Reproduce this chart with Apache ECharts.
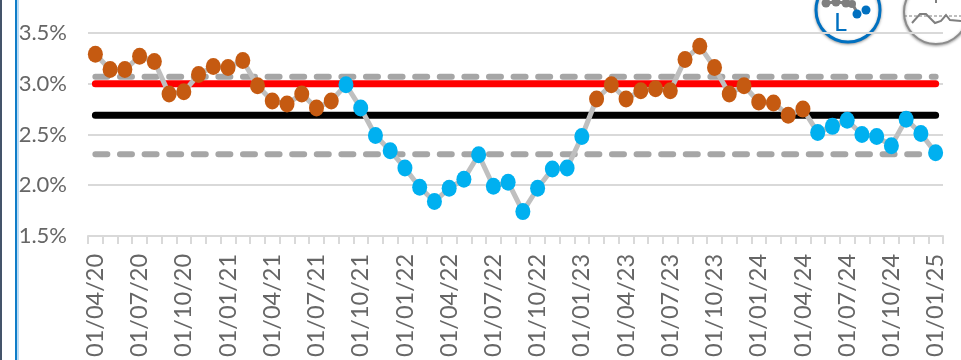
<!DOCTYPE html>
<html>
<head>
<meta charset="utf-8">
<style>html,body{margin:0;padding:0;background:#fff}#main{width:961px;height:360px}</style>
<script src="https://cdn.jsdelivr.net/npm/echarts@6/dist/echarts.min.js"></script>
</head>
<body>
<div id="main"></div>
<script>
const months = ['01/04/20','01/05/20','01/06/20','01/07/20','01/08/20','01/09/20','01/10/20','01/11/20','01/12/20',
  '01/01/21','01/02/21','01/03/21','01/04/21','01/05/21','01/06/21','01/07/21','01/08/21','01/09/21','01/10/21','01/11/21','01/12/21',
  '01/01/22','01/02/22','01/03/22','01/04/22','01/05/22','01/06/22','01/07/22','01/08/22','01/09/22','01/10/22','01/11/22','01/12/22',
  '01/01/23','01/02/23','01/03/23','01/04/23','01/05/23','01/06/23','01/07/23','01/08/23','01/09/23','01/10/23','01/11/23','01/12/23',
  '01/01/24','01/02/24','01/03/24','01/04/24','01/05/24','01/06/24','01/07/24','01/08/24','01/09/24','01/10/24','01/11/24','01/12/24',
  '01/01/25'];
const rate = [3.29,3.14,3.14,3.27,3.22,2.90,2.92,3.09,3.17,3.16,3.23,2.98,2.83,2.80,2.90,2.76,2.83,
  2.99,2.76,2.49,2.34,2.17,1.98,1.84,1.97,2.06,2.30,1.99,2.03,1.74,1.97,2.16,2.17,2.48,
  2.85,2.99,2.85,2.93,2.95,2.93,3.24,3.37,3.16,2.90,2.98,2.82,2.81,2.69,2.75,
  2.52,2.58,2.64,2.50,2.48,2.39,2.65,2.51,2.32];
// 1 = orange run, 0 = blue run
const signal = [1,1,1,1,1,1,1,1,1,1,1,1,1,1,1,1,1,
  0,0,0,0,0,0,0,0,0,0,0,0,0,0,0,0,0,
  1,1,1,1,1,1,1,1,1,1,1,1,1,1,1,
  0,0,0,0,0,0,0,0,0];
const target = months.map(() => 3.0);
const mean = months.map(() => 2.69);
const upperLimit = months.map(() => 3.07);
const lowerLimit = months.map(() => 2.305);
const yTicks = [1.5, 2.0, 2.5, 3.0, 3.5];

const FONT = 'Lato';
const GREY = '#a6a6a6';
const ICON_GREY = '#7f7f7f';
const ICON_BLUE = '#0070c0';

function refLine(name, values, color, dashed) {
  return {
    name, type: 'line', data: values, symbol: 'none', silent: true,
    lineStyle: {
      color, width: dashed ? 6 : 7, cap: 'round',
      type: dashed ? [12, 12.6] : 'solid'
    }
  };
}

function dot(cx, cy, r, fill) {
  return { type: 'circle', shape: { cx, cy, r }, style: { fill } };
}

const chart = echarts.init(document.getElementById('main'), null, { renderer: 'canvas' });
chart.setOption({
  animation: false,
  backgroundColor: '#fff',
  grid: { left: 88, right: 18, top: 33, bottom: 123 },
  xAxis: {
    type: 'category',
    data: months,
    boundaryGap: true,
    axisLine: { lineStyle: { color: '#d9d9d9', width: 2 } },
    axisTick: { show: true, interval: 0, length: 8, lineStyle: { color: '#d9d9d9', width: 2 } },
    axisLabel: { interval: 2, rotate: 90, margin: 18, color: '#666666', fontSize: 23.5, fontFamily: FONT }
  },
  yAxis: {
    type: 'value',
    min: yTicks[0],
    max: yTicks[yTicks.length - 1],
    interval: 0.5,
    axisLine: { show: false },
    axisTick: { show: false },
    splitLine: { lineStyle: { color: '#d9d9d9', width: 2 } },
    axisLabel: { margin: 21, color: '#666666', fontSize: 22, fontFamily: FONT, formatter: v => v.toFixed(1) + '%' }
  },
  series: [
    refLine('Upper limit', upperLimit, GREY, true),
    refLine('Lower limit', lowerLimit, GREY, true),
    refLine('Target', target, '#ff0000', false),
    refLine('Mean', mean, '#000000', false),
    {
      name: 'Rate', type: 'line', symbol: 'circle', symbolSize: [15, 17], showAllSymbol: true,
      lineStyle: { color: '#bfbfbf', width: 5 },
      data: rate.map((v, i) => ({
        value: v,
        itemStyle: { color: signal[i] ? '#c55a11' : '#00b0f0' }
      }))
    }
  ],
  graphic: [
    { type: 'rect', shape: { x: 0, y: 0, width: 2, height: 360 }, style: { fill: '#44546a' } },
    { type: 'rect', shape: { x: 15, y: 0, width: 2, height: 360 }, style: { fill: '#0f7dc8' } },
    { type: 'rect', shape: { x: 17, y: 0, width: 2, height: 360 }, style: { fill: '#bcdcf4' } },
    { type: 'circle', shape: { cx: 848, cy: 10, r: 32 }, style: { fill: '#fff', stroke: ICON_BLUE, lineWidth: 3, shadowBlur: 3, shadowColor: 'rgba(0,0,0,.35)', shadowOffsetY: 1 } },
    { type: 'polyline', shape: { points: [[826, 3], [836, 2], [846, 3], [853, 5], [858, 14]] }, style: { fill: 'none', stroke: ICON_GREY, lineWidth: 3 } },
    dot(826, 3, 4.5, ICON_GREY),
    dot(836, 2, 4.5, ICON_GREY),
    dot(846, 3, 4.5, ICON_GREY),
    dot(852, 4, 4, ICON_GREY),
    dot(857, 14, 4.5, ICON_BLUE),
    dot(866, 10, 4.5, ICON_BLUE),
    { type: 'text', x: 834, y: 10, style: { text: 'L', fill: ICON_BLUE, fontSize: 25, fontFamily: FONT } },
    { type: 'circle', shape: { cx: 936, cy: 12, r: 32 }, style: { fill: '#fff', stroke: '#8c8c8c', lineWidth: 2, shadowBlur: 3, shadowColor: 'rgba(0,0,0,.35)', shadowOffsetY: 1 } },
    { type: 'line', shape: { x1: 904, y1: 16, x2: 961, y2: 16 }, style: { stroke: ICON_GREY, lineWidth: 1, lineDash: [3, 2] } },
    { type: 'line', shape: { x1: 936, y1: 0, x2: 936, y2: 3 }, style: { stroke: ICON_GREY, lineWidth: 2 } },
    { type: 'polyline', shape: { points: [[912, 23], [920, 14], [926, 14], [935, 23], [941, 21], [946, 15], [950, 20], [961, 21]] }, style: { fill: 'none', stroke: ICON_GREY, lineWidth: 2 } }
  ]
});
</script>
</body>
</html>
